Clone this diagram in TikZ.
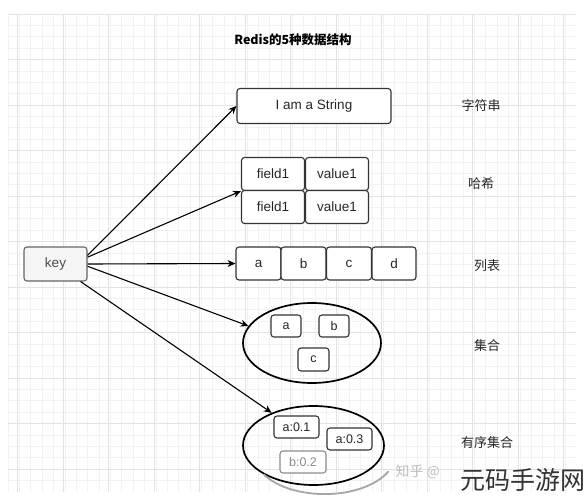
\documentclass[tikz,border=0pt]{standalone}
\usepackage{fontspec}
\setmainfont{Liberation Sans}
\newfontfamily\cjk{Noto Sans CJK SC}
\usetikzlibrary{arrows.meta,shapes.geometric}
\definecolor{gridmin}{HTML}{F2F2F2}
\definecolor{gridmaj}{HTML}{E2E2E2}
\definecolor{keyfill}{HTML}{F5F5F5}
\definecolor{keydraw}{HTML}{666666}
\begin{document}
\begin{tikzpicture}[x=1pt,y=-1pt,
  box/.style={draw=black!80, rounded corners=3pt, line width=1.1pt, fill=white,
    font=\fontsize{13.5}{15}\selectfont, inner sep=0pt, text=black!85},
  sbox/.style={box, font=\fontsize{12.5}{14}\selectfont},
  conn/.style={line width=1.1pt, -{Stealth[length=8pt,width=7pt]}},
  lbl/.style={font=\cjk\fontsize{13}{15}\selectfont, text=black!85},
  oval/.style={ellipse, draw=black, line width=1.7pt, inner sep=0pt}]
\useasboundingbox (0,0) rectangle (586,500);
\fill[white] (0,0) rectangle (586,500);
% grid
\foreach \i in {0,...,49} {
  \draw[gridmin, line width=0.6pt] ({8+\i*11.375},14) -- ({8+\i*11.375},492);
}
\foreach \i in {0,...,41} {
  \draw[gridmin, line width=0.6pt] (8,{14+\i*11.375}) -- (576,{14+\i*11.375});
}
\foreach \i in {0,...,12} {
  \draw[gridmaj, line width=0.7pt] ({17.5+\i*45.5},14) -- ({17.5+\i*45.5},492);
}
\foreach \i in {0,...,10} {
  \draw[gridmaj, line width=0.7pt] (8,{14+\i*45.5}) -- (576,{14+\i*45.5});
}
% title
\node[font=\cjk\bfseries\fontsize{12.5}{14}\selectfont] (title) at (293,40) {Redis的5种数据结构};
% key
\node[box, draw=keydraw, fill=keyfill, minimum width=63pt, minimum height=34pt, text=black!70] (key) at (55.5,264) {key};
% string
\node[box, minimum width=154pt, minimum height=35pt] (str) at (314,106) {I am a String};
% hash
\node[box, minimum width=63pt, minimum height=33pt] (f1a) at (273,174) {field1};
\node[box, minimum width=63pt, minimum height=33pt] (v1a) at (337,174) {value1};
\node[box, minimum width=63pt, minimum height=33pt] (f1b) at (273,207) {field1};
\node[box, minimum width=63pt, minimum height=33pt] (v1b) at (337,207) {value1};
% list
\node[box, minimum width=45pt, minimum height=33pt] (la) at (258.5,263.5) {a};
\node[box, minimum width=45pt, minimum height=33pt] (lb) at (303.5,263.5) {b};
\node[box, minimum width=45pt, minimum height=33pt] (lc) at (349,263.5) {c};
\node[box, minimum width=44pt, minimum height=33pt] (ld) at (394,263.5) {d};
% set
\node[oval, minimum width=138pt, minimum height=80pt] (set) at (312,343) {};
\node[sbox, minimum width=30pt, minimum height=22pt] (sa) at (286,326) {a};
\node[sbox, minimum width=30pt, minimum height=22pt] (sb) at (334,326) {b};
\node[sbox, minimum width=31pt, minimum height=23pt] (sc) at (313.5,359.5) {c};
% sorted set
\node[oval, minimum width=141pt, minimum height=79pt] (zset) at (313.5,445.5) {};
\draw[black!35, line width=1.8pt] (zset.-150) arc[start angle=-150, end angle=-25, x radius=70.5pt, y radius=39.5pt];
\node[sbox, minimum width=45pt, minimum height=22pt] (za) at (296.5,427) {a:0.1};
\node[sbox, minimum width=45pt, minimum height=22pt] (zb) at (349.5,439) {a:0.3};
\node[sbox, draw=black!45, text=black!45, minimum width=46pt, minimum height=22pt] (zc) at (303,462) {b:0.2};
% labels
\node[lbl] (l1) at (481,106) {字符串};
\node[lbl] (l2) at (481,184) {哈希};
\node[lbl] (l3) at (487,266) {列表};
\node[lbl] (l4) at (487,346) {集合};
\node[lbl] (l5) at (487,443) {有序集合};
% connectors
\draw[conn] (key.15) -- (str.west);
\draw[conn] (key.12) -- (f1a.south west);
\draw[conn] (key.east) -- (la.west);
\draw[conn] (key.-4) -- (set.165);
\draw[conn] (key.-35) -- (zset.142);
% watermarks
\node[font=\cjk\fontsize{14}{16}\selectfont, text=black!25, anchor=west] (wm1) at (392,472) {知乎 @};
\node[font=\cjk\fontsize{25}{28}\selectfont, text=black!80] (wm2) at (523,480) {元码手游网};
\end{tikzpicture}
\end{document}
